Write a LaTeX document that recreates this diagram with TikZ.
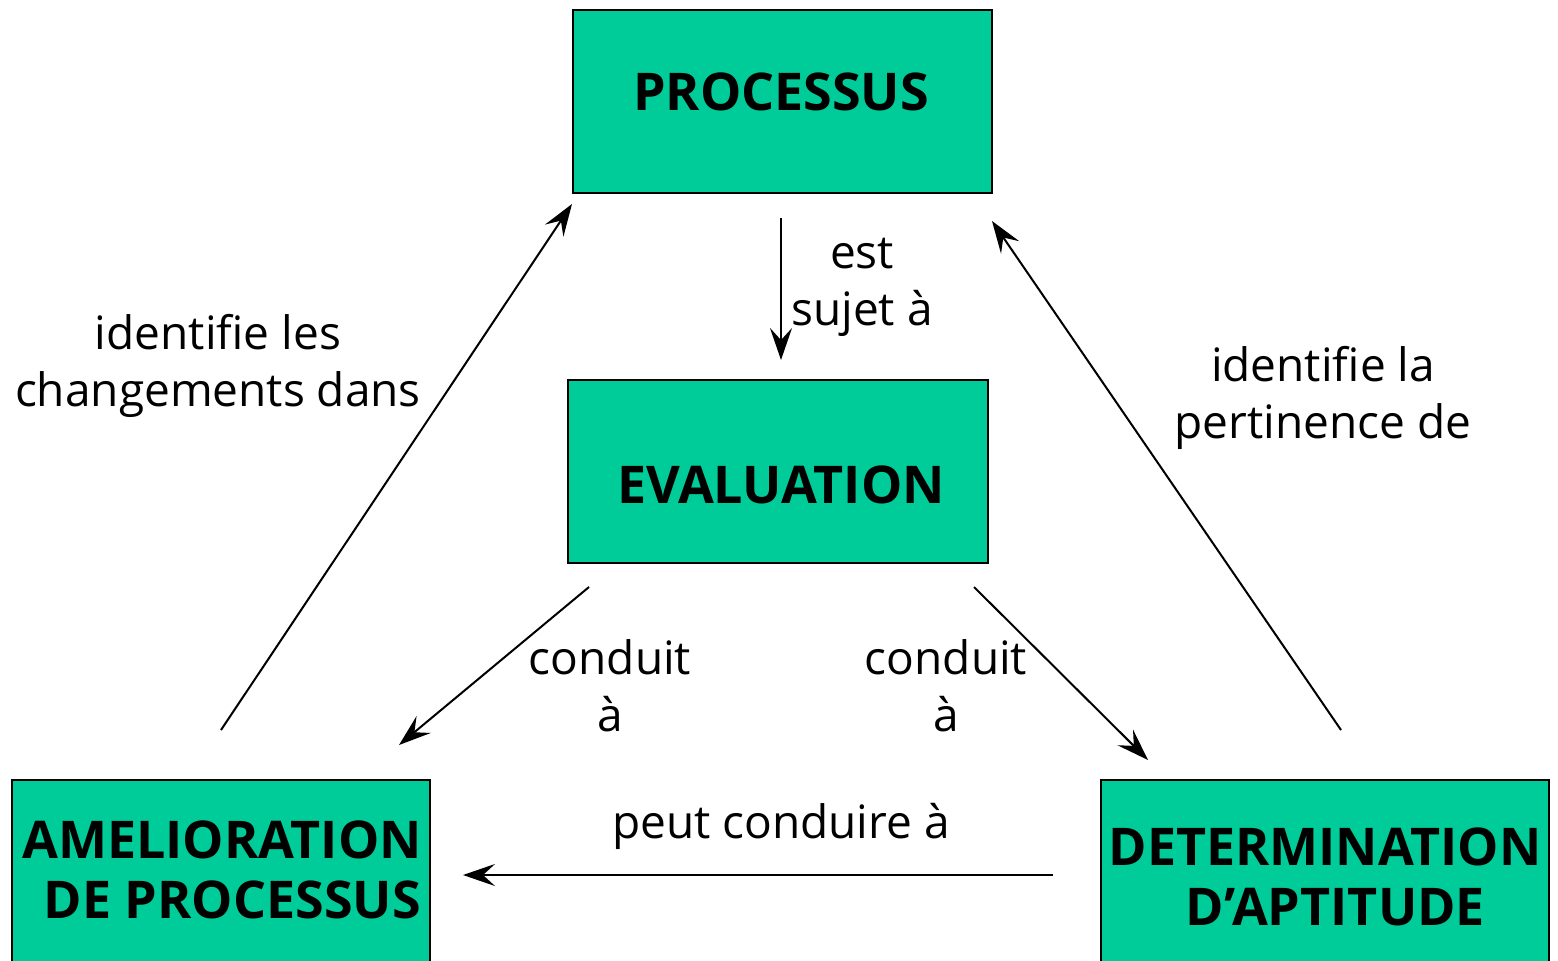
\documentclass[tikz,border=0pt]{standalone}
\usepackage{fontspec}
\setmainfont{Open Sans}
\usetikzlibrary{arrows.meta}
\definecolor{boxgreen}{HTML}{00CC99}
\begin{document}
\begin{tikzpicture}[x=0.5pt,y=-0.5pt,
  box/.style={draw=black,line width=1pt,fill=boxgreen,inner sep=0pt},
  title/.style={font=\fontsize{26}{30}\selectfont\bfseries,align=center,inner sep=0pt},
  lab/.style={font=\fontsize{23}{28.5}\selectfont,align=center,inner sep=0pt},
  arr/.style={line width=1pt,-{Stealth[length=16pt,width=11pt,inset=6pt]}}]
\useasboundingbox (0,0) rectangle (1558,960);
% boxes
\node[box,minimum width=209.5pt,minimum height=91.5pt] (procbox) at (782.5,101.5) {};
\node[box,minimum width=210pt,minimum height=91.5pt] (evalbox) at (778,471.5) {};
\node[box,minimum width=209pt,minimum height=100pt] (amelbox) at (221,880) {};
\node[box,minimum width=224pt,minimum height=100pt] (detbox) at (1325,880) {};
% box titles
\node[title] (proc) at (781,92) {PROCESSUS};
\node[title] (eval) at (781,485) {EVALUATION};
\node[title] (amel) at (222,870) {AMELIORATION\\\hspace*{0.4em}DE PROCESSUS};
\node[title] (det) at (1325,877) {DETERMINATION\\\hspace*{0.4em}D'APTITUDE};
% connector ends
\coordinate (a1) at (781,218);  \coordinate (a2) at (781,360);
\coordinate (b1) at (589,587);  \coordinate (b2) at (399,745);
\coordinate (c1) at (974,587);  \coordinate (c2) at (1148,760);
\coordinate (d1) at (1053,875); \coordinate (d2) at (463,875);
\coordinate (e1) at (221,730);  \coordinate (e2) at (572,204);
\coordinate (f1) at (1341,730); \coordinate (f2) at (992,221);
% connectors
\draw[arr] (a1) -- (a2);
\draw[arr] (b1) -- (b2);
\draw[arr] (c1) -- (c2);
\draw[arr] (d1) -- (d2);
\draw[arr] (e1) -- (e2);
\draw[arr] (f1) -- (f2);
% labels
\node[lab] (l1) at (862,287) {est\\sujet à};
\node[lab] (l2) at (218,366) {identifie les\\changements dans};
\node[lab] (l3) at (1323,398) {identifie la\\pertinence de};
\node[lab] (l4) at (610,686) {conduit\\à};
\node[lab] (l5) at (946,686) {conduit\\à};
\node[lab] (l6) at (781,826) {peut conduire à};
\end{tikzpicture}
\end{document}
